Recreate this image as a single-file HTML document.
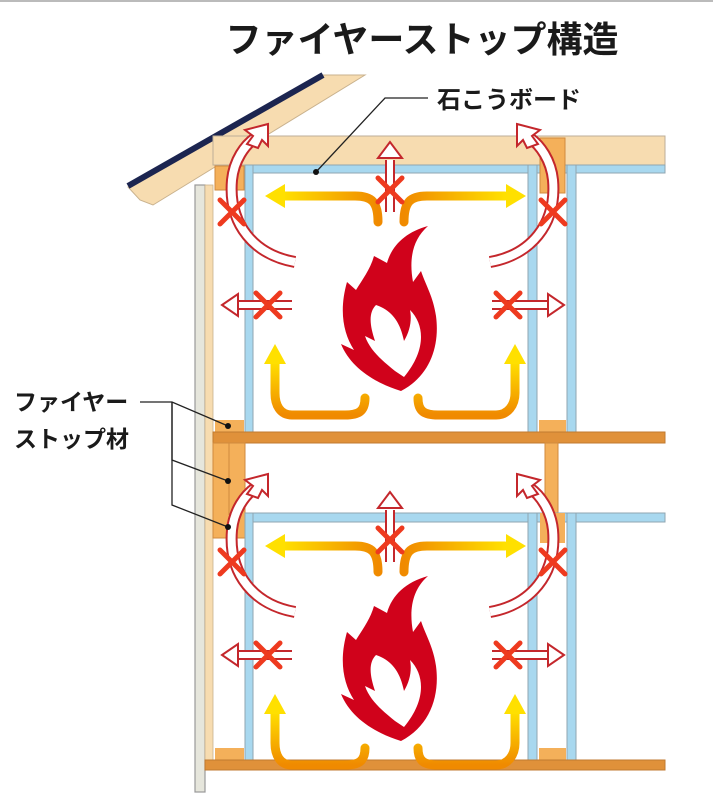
<!DOCTYPE html>
<html><head><meta charset="utf-8"><style>
html,body{margin:0;padding:0;background:#fff;}
svg{display:block;}
text{font-family:"Liberation Sans","Noto Sans CJK JP",sans-serif;font-weight:bold;fill:#1a1a1a;}
</style></head><body>
<svg width="713" height="804" viewBox="0 0 713 804" xmlns="http://www.w3.org/2000/svg">
<defs>
<linearGradient id="gl" x1="1" y1="0" x2="0" y2="0"><stop offset="0" stop-color="#f08a00"/><stop offset="1" stop-color="#ffe000"/></linearGradient>
<linearGradient id="gr" x1="0" y1="0" x2="1" y2="0"><stop offset="0" stop-color="#f08a00"/><stop offset="1" stop-color="#ffe000"/></linearGradient>
<linearGradient id="gu" x1="0" y1="1" x2="0" y2="0"><stop offset="0" stop-color="#f08a00"/><stop offset="1" stop-color="#ffe000"/></linearGradient>
<g id="storey">
  <path d="M378,222 C378,202 372,196 355,196 L283,196" fill="none" stroke="url(#gl)" stroke-width="9" stroke-linecap="round"/>
  <polygon points="265,196 285,184 285,208" fill="#ffe000"/>
  <path d="M404,222 C404,202 410,196 427,196 L505,196" fill="none" stroke="url(#gr)" stroke-width="9" stroke-linecap="round"/>
  <polygon points="526,196 506,184 506,208" fill="#ffe000"/>
  <path d="M365,398 C365,412 358,415 345,415 L292,415 C280,415 275,405 275,393 L275,362" fill="none" stroke="url(#gu)" stroke-width="9" stroke-linecap="round"/>
  <polygon points="275,344 264,364 286,364" fill="#ffe000"/>
  <path d="M418,398 C418,412 425,415 438,415 L496,415 C508,415 515,405 515,393 L515,362" fill="none" stroke="url(#gu)" stroke-width="9" stroke-linecap="round"/>
  <polygon points="515,344 504,364 526,364" fill="#ffe000"/>
  <path d="M428,226 C406,232 392,245 387,263 L374,256 C370,270 362,280 356,290 L347,282 C339,310 343,333 354,350 L341,344 C350,366 372,382 401,391 C430,376 440,346 436,316 C433,296 426,286 421,271 L413,282 C409,260 412,240 428,226 Z" fill="#d0021b"/>
  <path d="M376,305 C391,310 400,321 404,341 C410,331 412,320 410,310 C426,326 425,352 404,377 L395,371 C384,362 370,351 365,336 L375,341 C370,326 368,313 376,305 Z" fill="#fff"/>
  <g fill="none" stroke-linecap="butt">
    <path d="M295,262 C255,255 228,225 232,180 C234,160 245,145 255,138" stroke="#c4272c" stroke-width="12"/>
    <path d="M295,262 C255,255 228,225 232,180 C234,160 245,145 255,138" stroke="#fff" stroke-width="8"/>
    <path d="M490,262 C530,255 557,225 553,180 C551,160 540,145 530,138" stroke="#c4272c" stroke-width="12"/>
    <path d="M490,262 C530,255 557,225 553,180 C551,160 540,145 530,138" stroke="#fff" stroke-width="8"/>
    <path d="M390,212 L390,160" stroke="#c4272c" stroke-width="10"/>
    <path d="M390,212 L390,160" stroke="#fff" stroke-width="6"/>
    <path d="M292,305 L238,305" stroke="#c4272c" stroke-width="10"/>
    <path d="M292,305 L238,305" stroke="#fff" stroke-width="6"/>
    <path d="M492,305 L548,305" stroke="#c4272c" stroke-width="10"/>
    <path d="M492,305 L548,305" stroke="#fff" stroke-width="6"/>
  </g>
  <g fill="#fff" stroke="#c4272c" stroke-width="2">
    <polygon points="268,124 245,130 253,136 247,144 258,148 262,140 268,146"/>
    <polygon points="517,124 540,130 532,136 538,144 527,148 523,140 517,146"/>
    <polygon points="390,142 378,158 402,158"/>
    <polygon points="222,305 238,294 238,316"/>
    <polygon points="564,305 548,294 548,316"/>
  </g>
  <g stroke="#ee3a1f" stroke-width="5" stroke-linecap="round">
    <path d="M220,200 L244,224 M244,200 L220,224"/>
    <path d="M541,200 L565,224 M565,200 L541,224"/>
    <path d="M378,178 L402,202 M402,178 L378,202"/>
    <path d="M256,293 L280,317 M280,293 L256,317"/>
    <path d="M496,293 L520,317 M520,293 L496,317"/>
  </g>
</g>
</defs>
<line x1="0" y1="1" x2="713" y2="1" stroke="#bbb" stroke-width="2"/>
<text x="422" y="52" font-size="36" text-anchor="middle">ファイヤーストップ構造</text>
<text x="437" y="108" font-size="24">石こうボード</text>
<text x="14" y="410" font-size="23">ファイヤー</text>
<text x="14" y="447" font-size="23">ストップ材</text>

<rect x="195" y="185" width="10" height="607" fill="#e6e6dc" stroke="#999" stroke-width="1.2"/>
<rect x="205" y="185" width="8" height="580" fill="#f7dcb0" stroke="#c9b28e" stroke-width="0.8"/>
<polygon points="128,187 323,75 365,75 153,205 140,200" fill="#f7dcb0" stroke="#c9b28e" stroke-width="1"/>
<line x1="128" y1="186" x2="323" y2="75" stroke="#1c2550" stroke-width="6"/>
<rect x="213" y="136" width="452" height="29" fill="#f7dcb0" stroke="#bcae98" stroke-width="1"/>
<rect x="245" y="165" width="420" height="8" fill="#a8d8ef" stroke="#8fa6b0" stroke-width="1"/>
<rect x="215" y="166" width="29" height="24" fill="#f4b05a" stroke="#d18a3e" stroke-width="1"/>
<rect x="245" y="165" width="8" height="268" fill="#a8d8ef" stroke="#8fa6b0" stroke-width="1"/>
<rect x="540" y="138" width="25" height="55" fill="#f4b05a" stroke="#d18a3e" stroke-width="1"/>
<rect x="528" y="165" width="9" height="268" fill="#a8d8ef" stroke="#8fa6b0" stroke-width="1"/>
<rect x="567" y="165" width="9" height="268" fill="#a8d8ef" stroke="#8fa6b0" stroke-width="1"/>
<rect x="215" y="420" width="29" height="12" fill="#f4b05a"/>
<rect x="539" y="420" width="27" height="12" fill="#f4b05a"/>
<rect x="213" y="432" width="452" height="11" fill="#e0913a" stroke="#c07a30" stroke-width="1"/>
<rect x="213" y="443" width="32" height="95" fill="#f4b05a" stroke="#d18a3e" stroke-width="1"/>
<line x1="229" y1="443" x2="229" y2="515" stroke="#d18a3e"/>
<rect x="545" y="443" width="13" height="72" fill="#f4b05a" stroke="#d18a3e" stroke-width="1"/>
<rect x="245" y="513" width="420" height="9" fill="#a8d8ef" stroke="#8fa6b0" stroke-width="1"/>
<rect x="540" y="513" width="25" height="30" fill="#f4b05a"/>
<rect x="245" y="513" width="8" height="247" fill="#a8d8ef" stroke="#8fa6b0" stroke-width="1"/>
<rect x="528" y="513" width="9" height="247" fill="#a8d8ef" stroke="#8fa6b0" stroke-width="1"/>
<rect x="567" y="513" width="9" height="247" fill="#a8d8ef" stroke="#8fa6b0" stroke-width="1"/>
<rect x="215" y="748" width="29" height="12" fill="#f4b05a"/>
<rect x="539" y="748" width="27" height="12" fill="#f4b05a"/>
<rect x="205" y="760" width="460" height="10" fill="#e0913a" stroke="#c07a30" stroke-width="1"/>

<use href="#storey"/>
<use href="#storey" transform="translate(0,350)"/>

<g stroke="#222" stroke-width="1.3" fill="none">
  <path d="M428,98 L385,98 L316,172"/>
  <path d="M140,402 L172,402 L228,426"/>
  <path d="M172,402 L172,460 L228,481"/>
  <path d="M172,402 L172,505 L228,527"/>
</g>
<g fill="#111"><circle cx="316" cy="172" r="3"/><circle cx="228" cy="426" r="3"/><circle cx="228" cy="481" r="3"/><circle cx="228" cy="527" r="3"/></g>
</svg>
</body></html>
